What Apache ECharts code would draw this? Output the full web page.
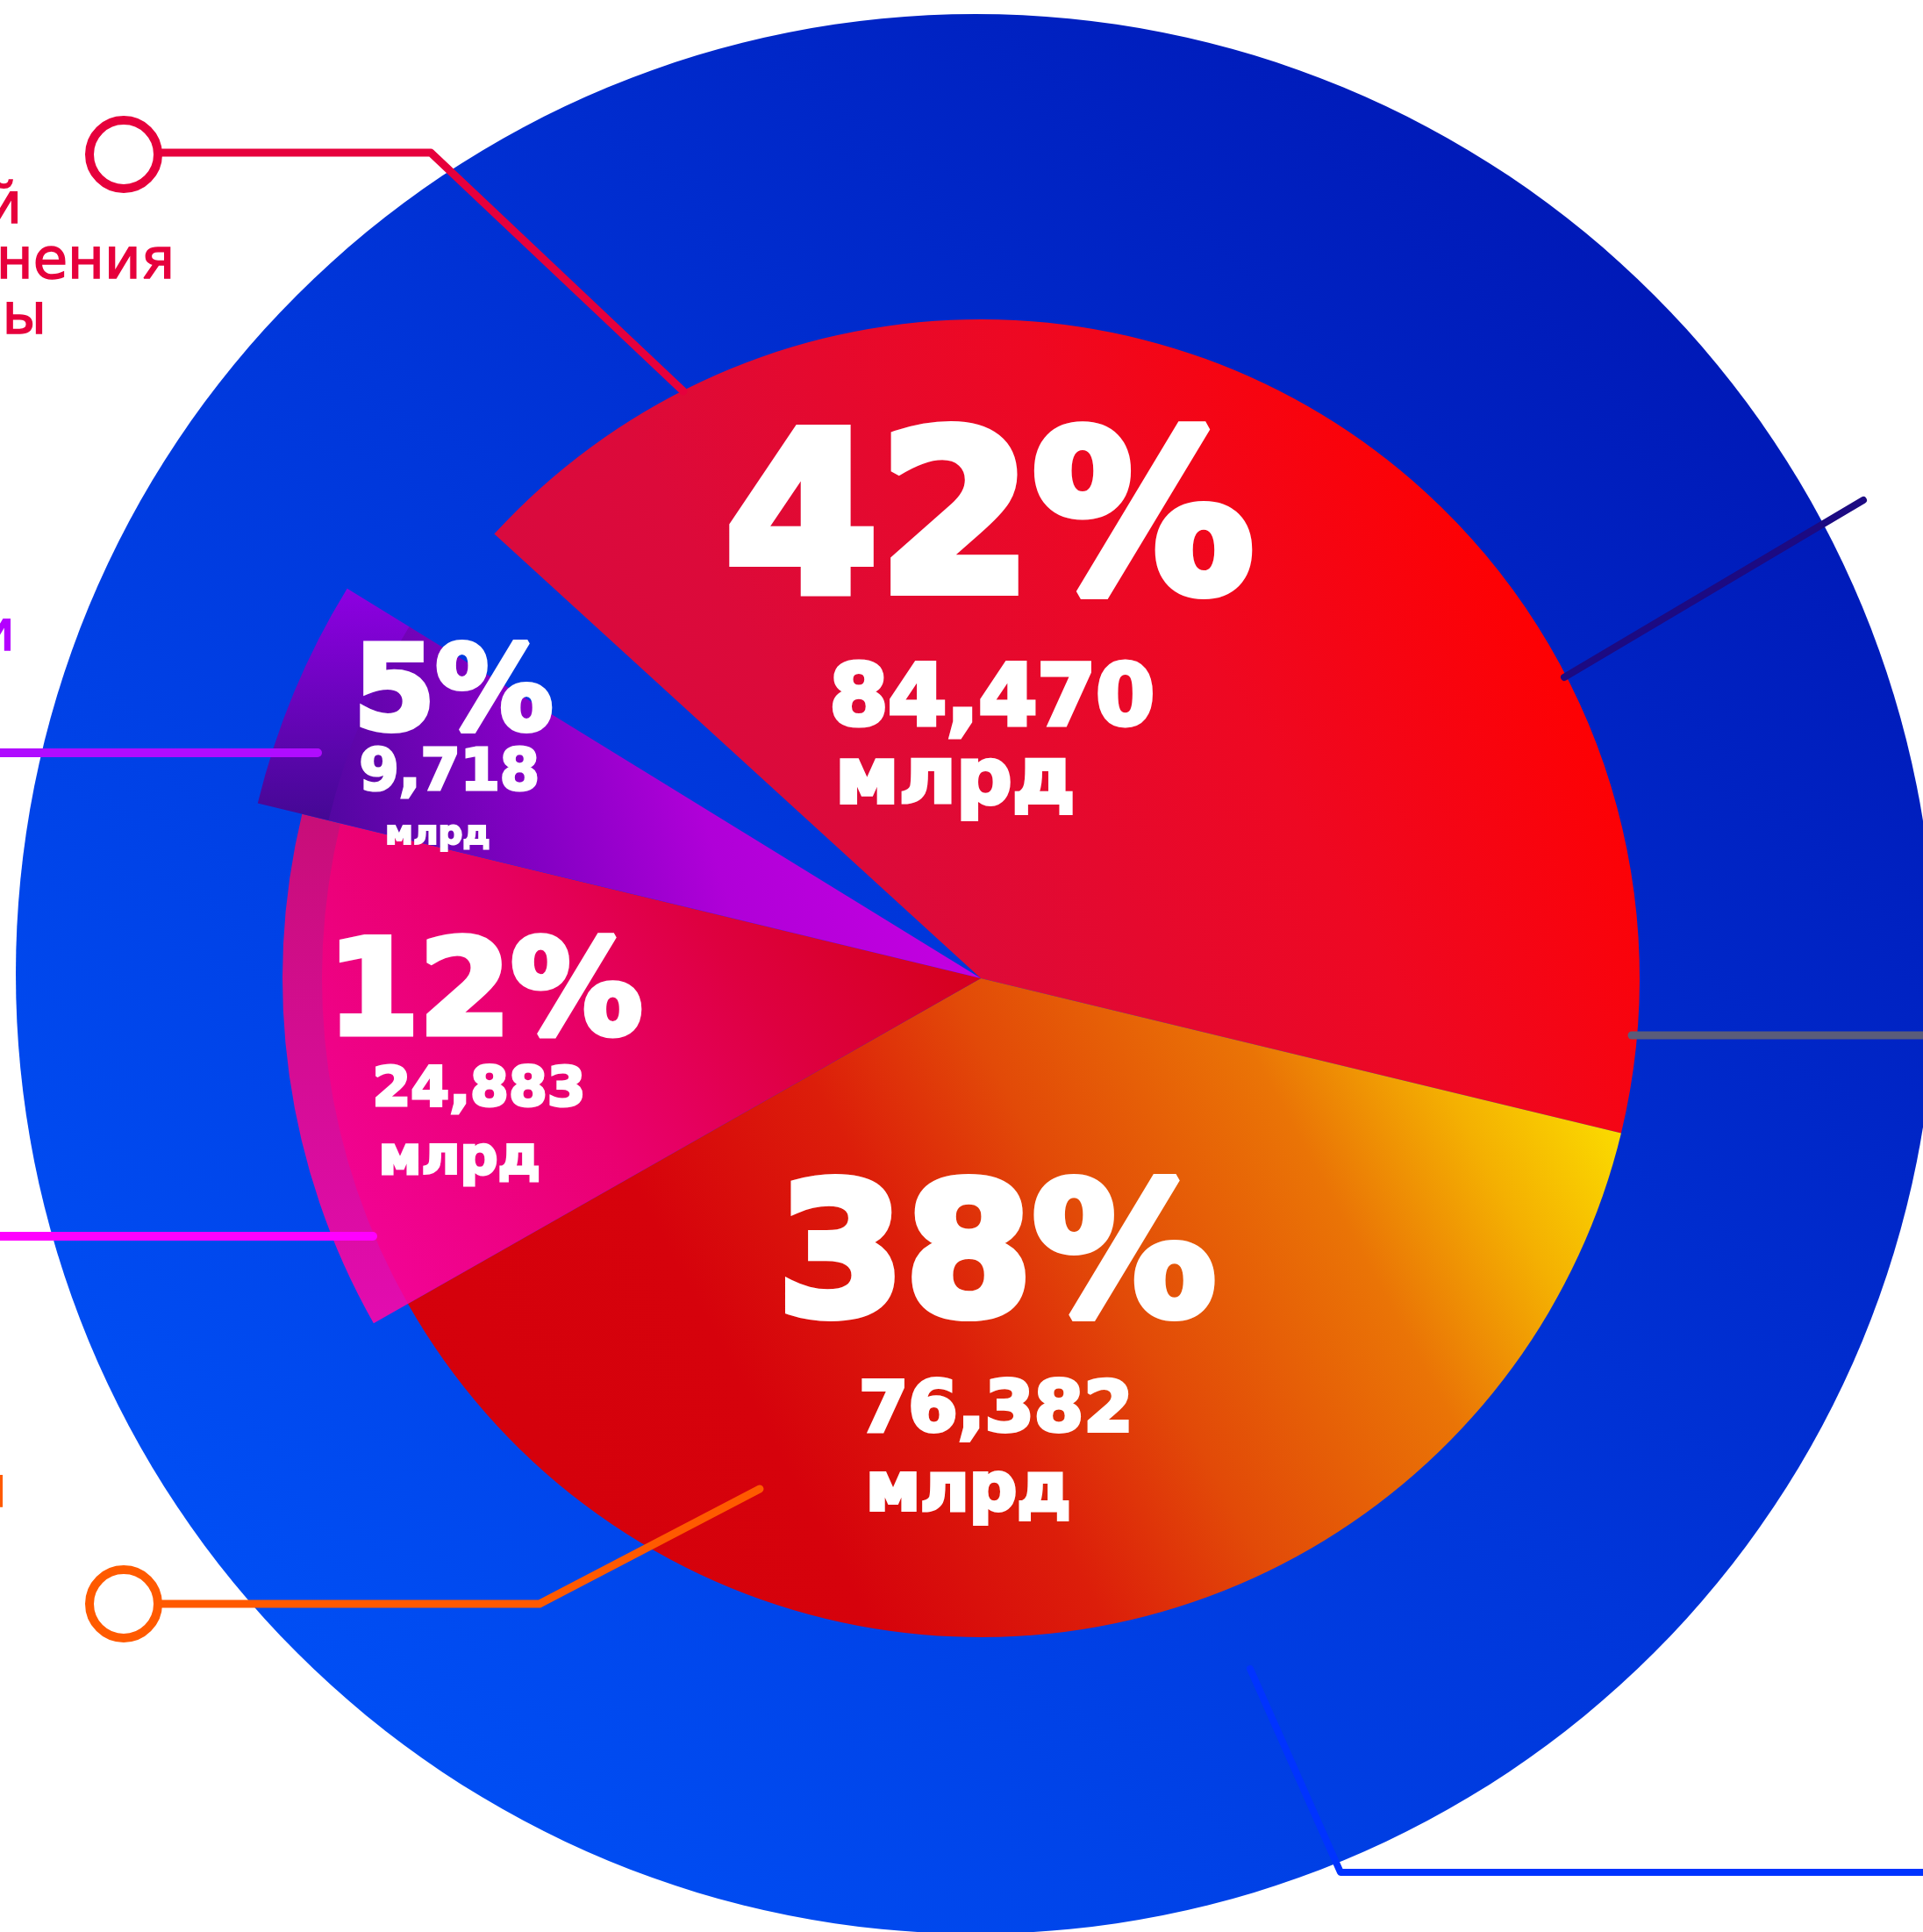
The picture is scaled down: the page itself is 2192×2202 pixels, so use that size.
<!DOCTYPE html>
<html>
<head>
<meta charset="utf-8">
<script src="https://cdn.jsdelivr.net/npm/echarts@6/dist/echarts.min.js"></script>
<style>
  html, body { margin: 0; padding: 0; background: #ffffff; }
  #chart { width: 2192px; height: 2202px; }
</style>
</head>
<body>
<div id="chart"></div>
<script>
// ---- data ----
// slice order (clockwise from upper-left edge): 42%, 38%, 12%, 5%, then the empty gap
const sliceNames    = ['42%', '38%', '12%', '5%', 'пусто'];
const percentValues = [42, 38, 12, 5, 3];
const percentLabels = ['42%', '38%', '12%', '5%'];
const amountLabels  = ['84,470', '76,382', '24,883', '9,718'];
const unitLabel     = 'млрд';
const sideLabelsRed = ['социальной', 'здравоохранения', 'культуры'];
const sideLabelPurple = 'промышленности';
const sideLabelOrange = 'экономики';

// ---- styling ----
const CENTER = [1118, 1115];
const START = 137.6;
const FONT = '"DejaVu Sans", sans-serif';

function grad(x, y, x2, y2, stops) {
  return new echarts.graphic.LinearGradient(x, y, x2, y2,
    stops.map(s => ({ offset: s[0], color: s[1] })));
}

const sliceColors = [
  grad(0, 1, 1, 0.2, [[0, '#d40a46'], [0.35, '#dc0a3a'], [0.65, '#ee0822'], [0.9, '#ff0000'], [1, '#ff0000']]),
  grad(0, 1, 1, 0, [[0, '#d4000c'], [0.3, '#d6020c'], [0.45, '#dc1e0a'], [0.57, '#e24a08'], [0.74, '#ea7406'], [0.85, '#f4b002'], [0.95, '#fbdc00'], [1, '#fce600']]),
  grad(0, 1, 1, 0, [[0, '#f4049e'], [0.4, '#ea0070'], [0.65, '#de0040'], [1, '#d2000c']]),
  grad(0, 1, 1, 0.5, [[0, '#48089a'], [0.35, '#8400c4'], [0.6, '#b000d8'], [1, '#c800e2']])
];
const bandColors = {
  2: grad(0, 1, 0, 0, [[0, '#e20cb0'], [1, '#c80e78']]),
  3: grad(0, 1, 0, 0, [[0, '#440894'], [1, '#8e00e2']])
};
// radii [inner, outer] per slice
const sliceRadius = [[0, 751], [0, 751], [0, 751], [0, 765]];
const bandRadius = { 2: [750, 796], 3: [764, 848] };

function slicePie(idx, radius, color, z) {
  return {
    type: 'pie', z: z, silent: true, animation: false,
    center: CENTER, radius: radius, startAngle: START, clockwise: true,
    label: { show: false }, labelLine: { show: false },
    emphasis: { disabled: true },
    data: percentValues.map((v, i) => ({
      name: sliceNames[i], value: v,
      itemStyle: { color: i === idx ? color : 'rgba(0,0,0,0)' }
    }))
  };
}

const series = [];
// background blue disc
series.push({
  type: 'pie', z: 1, silent: true, animation: false,
  center: [1112, 1110], radius: [0, 1094],
  label: { show: false }, labelLine: { show: false }, emphasis: { disabled: true },
  data: [{ name: 'фон', value: 1, itemStyle: {
    color: grad(0, 1, 1, 0, [[0, '#0058ff'], [0.5, '#0036da'], [1, '#000eaa']]) } }]
});
[2, 3].forEach(i => series.push(slicePie(i, bandRadius[i], bandColors[i], 2)));
for (let i = 0; i < 4; i++) series.push(slicePie(i, sliceRadius[i], sliceColors[i], 3));

// ---- labels ----
function txt(str, x, y, size, color, align, weight, strokeW) {
  const st = {
    text: str, fill: color, font: (weight || 'bold') + ' ' + size + 'px ' + FONT,
    textAlign: align || 'left', align: align || 'left',
    textVerticalAlign: 'middle', verticalAlign: 'middle'
  };
  if (strokeW) { st.stroke = color; st.lineWidth = strokeW; st.lineJoin = 'round'; }
  return { type: 'text', z: 100, silent: true, x: x, y: y, style: st };
}
// heavier white numerals: slightly smaller font + white outline
function bigTxt(str, x, y, size) {
  const s = Math.round(size * 0.96);
  const w = Math.max(2, Math.round(size * 0.045));
  return txt(str, x + w / 2, y, s, '#ffffff', 'left', 'bold', w);
}
// [percent(x,y,size), amount(x,y,size), unit(x,y,size)]
const labelLayout = [
  [[820, 608, 262], [943, 801, 100], [950, 892, 93]],
  [[881, 1444, 218], [977, 1610, 84], [985, 1701, 79]],
  [[370, 1139, 156], [423, 1244, 66], [430, 1322, 62]],
  [[400, 796, 140], [408, 883, 68], [438, 952, 41]]
];
const graphics = [];
labelLayout.forEach((L, i) => {
  graphics.push(bigTxt(percentLabels[i], L[0][0], L[0][1], L[0][2]));
  graphics.push(bigTxt(amountLabels[i], L[1][0], L[1][1], L[1][2]));
  graphics.push(bigTxt(unitLabel, L[2][0], L[2][1], L[2][2]));
});

// ---- leader lines ----
function line(points, color, w) {
  return { type: 'polyline', z: 90, silent: true, shape: { points: points },
    style: { stroke: color, lineWidth: w, fill: null, lineCap: 'round', lineJoin: 'round' } };
}
function ring(cx, cy, color) {
  return { type: 'circle', z: 91, silent: true, shape: { cx: cx, cy: cy, r: 39 },
    style: { fill: '#ffffff', stroke: color, lineWidth: 10 } };
}
const RED = '#e6003c', ORANGE = '#ff5a00';
graphics.push(line([[180, 174], [491, 174], [779, 446]], RED, 9));
graphics.push(ring(141, 176, RED));
graphics.push(line([[-20, 858], [362, 858]], '#b00cff', 10));
graphics.push(line([[-20, 1409], [425, 1409]], '#ff00ff', 10));
graphics.push(line([[180, 1828], [615, 1828], [866, 1697]], ORANGE, 9));
graphics.push(ring(141, 1828, ORANGE));
graphics.push(line([[1783, 772], [2124, 570]], '#1c0a82', 8));
graphics.push(line([[1860, 1180], [2220, 1180]], '#5a5c7a', 9));
graphics.push(line([[1425, 1902], [1528, 2134], [2230, 2134]], '#0033ff', 8));

// ---- cut-off side captions ----
graphics.push(txt(sideLabelsRed[0], 25, 237, 64, RED, 'right', 'normal', 1.5));
graphics.push(txt(sideLabelsRed[1], 199, 300, 64, RED, 'right', 'normal', 1.5));
graphics.push(txt(sideLabelsRed[2], 53, 363, 64, RED, 'right', 'normal', 1.5));
graphics.push(txt(sideLabelPurple, 17, 724, 64, '#b400ff', 'right', 'normal', 1.5));
graphics.push(txt(sideLabelOrange, 8, 1700, 64, ORANGE, 'right', 'normal', 1.5));

const chart = echarts.init(document.getElementById('chart'), null, { renderer: 'canvas' });
chart.setOption({
  backgroundColor: '#ffffff',
  animation: false,
  series: series,
  graphic: { elements: graphics }
});
</script>
</body>
</html>
